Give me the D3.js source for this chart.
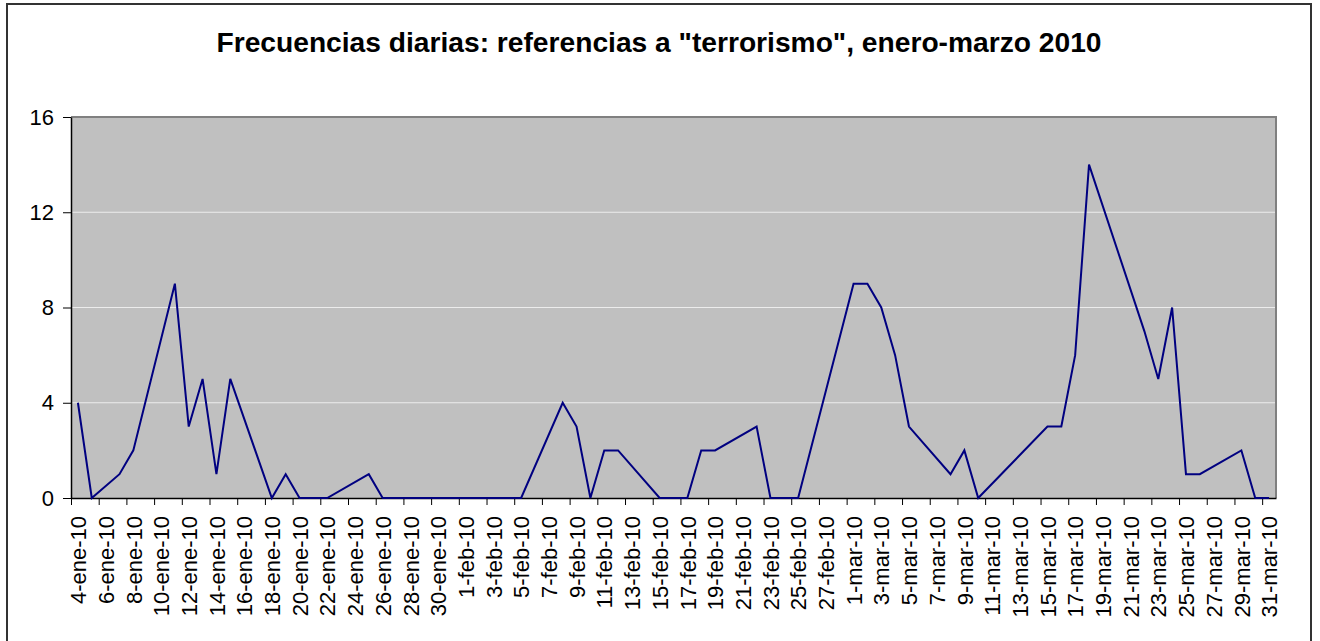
<!DOCTYPE html>
<html>
<head>
<meta charset="utf-8">
<script src="https://cdn.jsdelivr.net/npm/d3@7"></script>
<style>
  body { margin: 0; background: #fff; }
  svg { display: block; }
  text { font-family: "Liberation Sans", Arial, sans-serif; }
</style>
</head>
<body>
<svg id="chart" width="1320" height="641"></svg>
<script>
// daily counts (missing days = no data, Excel joins the points)
const days = [
  "2010-01-04","2010-01-05","2010-01-07","2010-01-08","2010-01-11","2010-01-12","2010-01-13",
  "2010-01-14","2010-01-15","2010-01-18","2010-01-19","2010-01-20","2010-01-21","2010-01-22",
  "2010-01-25","2010-01-26","2010-01-27","2010-01-28","2010-01-29","2010-02-01","2010-02-02",
  "2010-02-03","2010-02-04","2010-02-05","2010-02-08","2010-02-09","2010-02-10","2010-02-11",
  "2010-02-12","2010-02-15","2010-02-16","2010-02-17","2010-02-18","2010-02-19","2010-02-22",
  "2010-02-23","2010-02-24","2010-02-25","2010-03-01","2010-03-02","2010-03-03","2010-03-04",
  "2010-03-05","2010-03-08","2010-03-09","2010-03-10","2010-03-15","2010-03-16","2010-03-17",
  "2010-03-18","2010-03-22","2010-03-23","2010-03-24","2010-03-25","2010-03-26","2010-03-29",
  "2010-03-30","2010-03-31"
];
const counts = [
  4,0,1,2,9,3,5,
  1,5,0,1,0,0,0,
  1,0,0,0,0,0,0,
  0,0,0,4,3,0,2,
  2,0,0,0,2,2,3,
  0,0,0,9,9,8,6,
  3,1,2,0,3,3,6,
  14,7,5,8,1,1,2,
  0,0
];
const monthsEs = ["ene","feb","mar","abr","may","jun","jul","ago","sep","oct","nov","dic"];
const yTicks = [0, 4, 8, 12, 16];
const title = 'Frecuencias diarias: referencias a "terrorismo", enero-marzo 2010';

const parse = d3.utcParse("%Y-%m-%d");
const data = days.map((d, i) => ({ date: parse(d), count: counts[i] }));

const es = d3.timeFormatLocale({
  dateTime: "%x, %X", date: "%d/%m/%Y", time: "%H:%M:%S", periods: ["AM", "PM"],
  days: ["domingo","lunes","martes","miércoles","jueves","viernes","sábado"],
  shortDays: ["dom","lun","mar","mié","jue","vie","sáb"],
  months: ["enero","febrero","marzo","abril","mayo","junio","julio","agosto","septiembre","octubre","noviembre","diciembre"],
  shortMonths: monthsEs
});
const fmt = es.utcFormat("%-d-%b-%y");

const svg = d3.select("#chart");
const W = 1320, H = 641;
const m = { left: 71, top: 117, right: 44, bottom: 143 };
const cw = W - m.left - m.right, ch = H - m.top - m.bottom;

// outer chart frame
svg.append("rect").attr("x", 7).attr("y", 4).attr("width", 1304).attr("height", 700)
  .attr("fill", "#fff").attr("stroke", "#333").attr("stroke-width", 2);

svg.append("text").attr("x", 659).attr("y", 52).attr("text-anchor", "middle")
  .attr("font-size", 27).attr("font-weight", "bold")
  .attr("textLength", 885).attr("lengthAdjust", "spacingAndGlyphs")
  .text(title);

const start = data[0].date;
const end = d3.utcDay.offset(data[data.length - 1].date, 1);
const x = d3.scaleUtc().domain([start, end]).range([0, cw]);
const y = d3.scaleLinear().domain([0, 16]).range([ch, 0]);
const mid = d => d3.utcHour.offset(d, 12);

const g = svg.append("g").attr("transform", `translate(${m.left},${m.top})`);

g.append("rect").attr("width", cw).attr("height", ch).attr("fill", "#c0c0c0");

// gridlines
g.selectAll(".grid").data(yTicks.filter(t => t > 0 && t < 16)).enter().append("line")
  .attr("x1", 0).attr("x2", cw).attr("y1", d => y(d)).attr("y2", d => y(d))
  .attr("stroke", "#ececec").attr("stroke-width", 1);

// top / right plot border
g.append("path").attr("d", `M0,0H${cw}V${ch}`).attr("fill", "none")
  .attr("stroke", "#808080").attr("stroke-width", 2);

const tickDays = d3.utcDay.range(start, end, 2);

// tick marks at day boundaries
const xTicks = g.append("g").attr("transform", `translate(0,${ch})`)
  .call(d3.axisBottom(x).tickValues(tickDays).tickSize(7).tickSizeOuter(0).tickFormat(""));
xTicks.selectAll("line").attr("stroke", "#000");
xTicks.select(".domain").attr("stroke", "#000").attr("stroke-width", 1.5);

// labels centred on the day
const xLabels = g.append("g").attr("transform", `translate(0,${ch})`)
  .call(d3.axisBottom(x).tickValues(tickDays.map(mid)).tickSize(0).tickFormat(fmt));
xLabels.select(".domain").remove();
xLabels.selectAll("text")
  .attr("font-size", 22).attr("fill", "#000")
  .attr("font-family", '"Liberation Sans", Arial, sans-serif')
  .attr("transform", "rotate(-90)").attr("text-anchor", "end")
  .attr("x", -18).attr("y", 0).attr("dy", "0.35em");

const yAxis = g.append("g")
  .call(d3.axisLeft(y).tickValues(yTicks).tickSize(8).tickSizeOuter(0).tickPadding(9).tickFormat(d3.format("d")));
yAxis.select(".domain").attr("stroke", "#000").attr("stroke-width", 1.5);
yAxis.selectAll("text").attr("font-size", 22).attr("fill", "#000")
  .attr("font-family", '"Liberation Sans", Arial, sans-serif');

const line = d3.line().x(d => x(mid(d.date))).y(d => y(d.count));
g.append("path").datum(data)
  .attr("fill", "none").attr("stroke", "#000080").attr("stroke-width", 2)
  .attr("stroke-linejoin", "miter").attr("d", line);
</script>
</body>
</html>
